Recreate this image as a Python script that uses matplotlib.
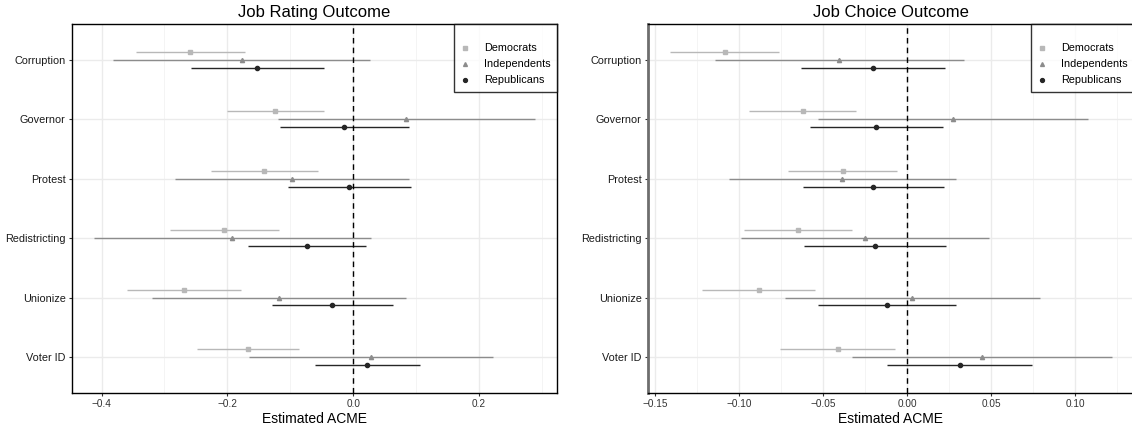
import matplotlib.pyplot as plt
from matplotlib.lines import Line2D
import numpy as np

plt.rcParams['font.family'] = ['Liberation Sans', 'DejaVu Sans']

# categories, top to bottom
issues = ['Corruption', 'Governor', 'Protest', 'Redistricting', 'Unionize', 'Voter ID']
groups = ['Democrats', 'Independents', 'Republicans']

# job rating outcome: estimate, lower, upper (same order as issues)
rating_dem_est = [-0.259, -0.124, -0.141, -0.205, -0.269, -0.168]
rating_dem_lo = [-0.345, -0.201, -0.226, -0.292, -0.360, -0.248]
rating_dem_hi = [-0.172, -0.047, -0.056, -0.118, -0.178, -0.086]
rating_ind_est = [-0.177, 0.084, -0.098, -0.193, -0.118, 0.029]
rating_ind_lo = [-0.382, -0.119, -0.284, -0.412, -0.320, -0.166]
rating_ind_hi = [0.027, 0.289, 0.089, 0.028, 0.084, 0.223]
rating_rep_est = [-0.153, -0.015, -0.006, -0.074, -0.033, 0.022]
rating_rep_lo = [-0.258, -0.117, -0.103, -0.168, -0.129, -0.061]
rating_rep_hi = [-0.046, 0.089, 0.092, 0.021, 0.064, 0.107]

# job choice outcome
choice_dem_est = [-0.1085, -0.0624, -0.0385, -0.0650, -0.0886, -0.0415]
choice_dem_lo = [-0.1413, -0.0942, -0.0711, -0.0970, -0.1225, -0.0758]
choice_dem_hi = [-0.0763, -0.0307, -0.0063, -0.0330, -0.0547, -0.0073]
choice_ind_est = [-0.0404, 0.0272, -0.0389, -0.0253, 0.0030, 0.0445]
choice_ind_lo = [-0.1143, -0.0532, -0.1065, -0.0990, -0.0730, -0.0331]
choice_ind_hi = [0.0335, 0.1074, 0.0292, 0.0484, 0.0793, 0.1219]
choice_rep_est = [-0.0203, -0.0184, -0.0203, -0.0194, -0.0123, 0.0313]
choice_rep_lo = [-0.0633, -0.0579, -0.0620, -0.0618, -0.0534, -0.0119]
choice_rep_hi = [0.0227, 0.0214, 0.0216, 0.0231, 0.0292, 0.0745]

rating_ticks = [-0.4, -0.2, 0.0, 0.2]
rating_tick_labels = ['\u22120.4', '\u22120.2', '0.0', '0.2']
choice_ticks = [-0.15, -0.10, -0.05, 0.0, 0.05, 0.10]
choice_tick_labels = ['\u22120.15', '\u22120.10', '\u22120.05', '0.00', '0.05', '0.10']

colors = {'Democrats': '#b8b8b8', 'Independents': '#8c8c8c', 'Republicans': '#262626'}
markers = {'Democrats': 's', 'Independents': '^', 'Republicans': 'o'}
offsets = {'Democrats': 0.133, 'Independents': 0.0, 'Republicans': -0.133}

W, H = 1132, 428
fig = plt.figure(figsize=(W / 100, H / 100), dpi=100)


def panel(rect, title, data, ticks, tick_labels, left_spine_color):
    ax = fig.add_axes(rect)
    ypos = np.arange(len(issues), 0, -1)

    # x range with 5% padding, like ggplot
    lo = min(min(d[1]) for d in data.values())
    hi = max(max(d[2]) for d in data.values())
    pad = (hi - lo) * 0.05
    ax.set_xlim(lo - pad, hi + pad)
    ax.set_ylim(0.4, len(issues) + 0.6)

    # grid
    step = ticks[1] - ticks[0]
    minor = [ticks[0] - step / 2] + [t + step / 2 for t in ticks]
    for m in minor:
        ax.axvline(m, color='#f2f2f2', lw=0.6, zorder=0)
    for t in ticks:
        ax.axvline(t, color='#ebebeb', lw=1.0, zorder=0)
    for y in ypos:
        ax.axhline(y, color='#ebebeb', lw=1.0, zorder=0)

    ax.axvline(0, color='black', lw=1.0, ls=(0, (4, 3)), zorder=3)

    for g in groups:
        est, low, high = data[g]
        y = ypos + offsets[g]
        ax.hlines(y, low, high, color=colors[g], lw=1.0, zorder=2)
        ax.plot(est, y, ls='none', marker=markers[g], ms=3.0, color=colors[g],
                mec=colors[g], zorder=4)

    ax.set_yticks(ypos)
    ax.set_yticklabels(issues)
    ax.set_xticks(ticks)
    ax.set_xticklabels(tick_labels)
    ax.tick_params(length=2.5, width=0.8, color='#333333', labelsize=7.2,
                   labelcolor='#333333', pad=2)
    ax.tick_params(axis='y', labelsize=7.8, labelcolor='#1a1a1a')
    ax.set_xlabel('Estimated ACME', fontsize=10, labelpad=2)
    ax.set_title(title, fontsize=12, pad=5)

    for s in ax.spines.values():
        s.set_color('black')
        s.set_linewidth(1.0)
    ax.spines['left'].set_color(left_spine_color)
    if left_spine_color != 'black':
        ax.spines['left'].set_linewidth(2.0)

    handles = [Line2D([], [], ls='none', marker=markers[g], ms=2.8, color=colors[g])
               for g in groups]
    leg = ax.legend(handles, groups, loc='upper right', bbox_to_anchor=(1.0, 1.0),
                    borderaxespad=0, fontsize=7.8, title=' ', title_fontsize=6,
                    frameon=True, fancybox=False, edgecolor='black',
                    handlelength=1.0, handletextpad=1.2, labelspacing=0.55,
                    borderpad=0.6)
    leg.get_frame().set_linewidth(1.0)
    leg.set_zorder(10)
    return ax


def rect(x0, x1):
    top, bottom = 24, 392.7
    return [x0 / W, 1 - bottom / H, (x1 - x0) / W, (bottom - top) / H]


rating = {
    'Democrats': (rating_dem_est, rating_dem_lo, rating_dem_hi),
    'Independents': (rating_ind_est, rating_ind_lo, rating_ind_hi),
    'Republicans': (rating_rep_est, rating_rep_lo, rating_rep_hi),
}
choice = {
    'Democrats': (choice_dem_est, choice_dem_lo, choice_dem_hi),
    'Independents': (choice_ind_est, choice_ind_lo, choice_ind_hi),
    'Republicans': (choice_rep_est, choice_rep_lo, choice_rep_hi),
}

panel(rect(72, 557), 'Job Rating Outcome', rating, rating_ticks, rating_tick_labels, 'black')
panel(rect(648, 1134), 'Job Choice Outcome', choice, choice_ticks, choice_tick_labels, '#6e6e6e')

fig.savefig('out.png', dpi=100)
